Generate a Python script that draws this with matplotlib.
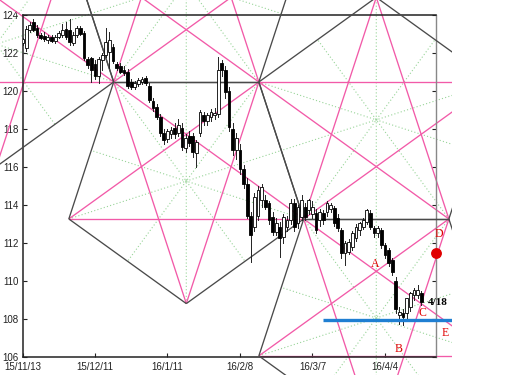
import matplotlib
matplotlib.use("Agg")
import matplotlib.pyplot as plt
from matplotlib.patches import Rectangle
import numpy as np

# ---------------- data ----------------
opens = [122.5,122.25,123.2,123.6,123.3,122.95,122.9,122.65,122.85,122.6,122.85,122.95,123.25,123.2,122.5,122.95,123.3,123.05,121.65,121.7,
         121.4,120.75,121.6,121.9,122.05,122.3,121.4,121.3,121.1,121.0,120.45,120.2,120.35,120.45,120.65,120.25,119.45,119.15,118.6,117.8,
         117.45,117.7,118.05,117.75,118.05,117.0,117.6,117.6,116.7,117.8,118.7,118.4,118.6,118.7,118.8,121.45,121.1,120.0,118.0,116.9,
         116.9,115.9,115.1,113.4,112.84,113.4,114.25,114.25,114.07,113.37,112.58,112.84,112.3,112.84,113.19,114.07,113.02,113.37,113.9,113.72,
         113.5,113.54,113.19,113.54,113.63,113.8,113.8,113.28,112.67,111.44,111.53,111.79,112.23,112.66,112.84,113.1,113.54,112.76,112.49,112.67,
         111.88,111.62,111.09,110.0,108.2,108.3,108.28,108.63,109.25,109.25,109.34]
highs = [122.8,123.4,123.6,123.75,123.45,123.05,123.1,122.95,122.95,122.95,123.15,123.5,123.6,123.8,123.1,123.4,123.4,123.15,121.8,121.8,
         121.6,121.8,122.0,123.3,123.1,122.45,121.5,121.45,121.3,121.15,120.6,120.5,120.65,120.7,120.75,120.4,119.6,119.3,118.8,118.0,
         118.0,118.1,118.3,118.5,118.3,117.7,117.9,117.8,117.4,119.0,118.9,118.85,119.05,119.1,121.8,121.6,121.3,120.2,118.3,117.8,
         117.2,116.1,115.4,113.6,114.6,115.0,115.1,114.5,114.2,113.6,113.3,113.1,113.5,113.4,114.3,114.3,114.0,114.5,114.1,114.3,
         114.2,113.8,113.8,113.7,114.2,114.1,113.95,113.5,112.8,112.1,112.2,112.6,113.0,113.1,113.3,113.8,113.7,112.9,112.9,112.8,
         112.0,111.7,111.2,110.2,108.6,108.5,109.1,109.4,109.6,109.8,109.45]
lows = [122.4,122.1,123.1,123.15,122.85,122.7,122.6,122.5,122.55,122.5,122.75,122.85,122.7,122.4,122.4,122.85,122.95,121.6,121.2,120.45,
        120.6,120.4,121.1,121.8,121.2,121.45,121.1,120.95,120.85,120.15,120.1,120.1,120.25,120.35,120.3,119.4,118.95,118.5,117.6,117.2,
        117.3,117.5,117.5,117.6,116.9,116.8,117.1,116.5,116.0,117.6,118.2,118.2,118.4,118.5,118.6,120.8,119.6,117.9,116.6,116.4,
        115.6,114.9,113.3,110.98,112.6,113.2,113.9,113.8,113.0,112.4,112.4,111.26,112.0,112.6,113.0,112.6,112.8,113.2,113.2,113.5,
        113.3,112.5,112.9,113.0,113.4,113.6,112.9,112.6,111.2,110.83,111.4,111.6,112.1,112.4,112.7,113.0,112.7,112.3,112.3,111.7,
        111.2,110.8,110.3,108.3,107.7,107.65,108.0,108.4,109.0,109.1,108.7]
closes = [122.7,123.25,123.45,123.2,122.95,122.8,122.7,122.85,122.6,122.85,123.05,123.2,122.85,122.55,122.95,123.3,123.0,121.7,121.35,121.1,
          120.75,121.65,121.9,122.55,122.65,121.55,121.2,121.0,120.95,120.25,120.2,120.4,120.55,120.6,120.4,119.5,119.1,118.6,117.75,117.4,
          117.9,117.95,117.7,118.2,117.05,117.5,117.25,116.8,117.3,118.9,118.4,118.7,118.9,118.85,121.1,121.1,119.95,118.1,116.9,117.5,
          115.9,115.1,113.4,112.4,114.42,114.77,114.95,113.9,113.19,112.58,113.02,112.23,113.37,113.19,114.07,112.84,113.9,114.25,113.37,114.25,
          113.9,112.67,113.63,113.19,114.07,114.0,113.02,112.76,111.44,111.97,112.05,112.49,112.84,113.02,113.19,113.72,112.84,112.49,112.76,111.88,
          111.35,110.92,110.47,108.5,108.37,108.1,109.07,109.34,109.5,109.5,108.9]

tick_pos = [0, 20, 40, 60, 80, 100]
tick_labels = ['15/11/13', '15/12/11', '16/1/11', '16/2/8', '16/3/7', '16/4/4']
y_ticks = [106, 108, 110, 112, 114, 116, 118, 120, 122, 124]

# pentagon construction (bar index, price): vertices in order and centre
pent_A = [(25.16, 120.458), (65.21, 120.458), (77.59, 113.250), (45.19, 108.795), (12.78, 113.250)]
pent_B = [(65.21, 120.458), (97.61, 124.913), (130.02, 120.458), (117.64, 113.250), (77.59, 113.250)]
pent_C = [(77.59, 113.250), (117.64, 113.250), (130.02, 106.042), (97.61, 101.587), (65.21, 106.042)]
pent_E = [(25.16, 120.458), (12.78, 127.666), (45.19, 132.121), (77.59, 127.666), (65.21, 120.458)]
pent_F = [(25.16, 120.458), (-7.24, 116.003), (-39.64, 120.458), (-27.27, 127.666), (12.78, 127.666)]
centres = [(45.19, 115.242), (97.61, 118.466), (97.61, 108.034), (45.19, 125.674), (-7.24, 122.450)]
pentagons = [pent_A, pent_B, pent_C, pent_E, pent_F]

support_level = 107.93
support_start = 83.0
marker_pt = (114.0, 111.47)
letters = {'A': (97.4, 110.86), 'B': (103.9, 106.39), 'C': (110.4, 108.32),
           'D': (115.0, 112.44), 'E': (116.6, 107.26)}
date_note = ('4/18', 114.5, 108.83)

# ---------------- figure ----------------
fig = plt.figure(figsize=(5.15, 3.75), dpi=100)
ax = fig.add_axes([0.0437, 0.0488, 0.8023, 0.912])
ax.set_xlim(0, 114)
ax.set_ylim(106, 124)

clip = Rectangle((0, 0), 452 / 515, 1, transform=fig.transFigure)

PINK = '#f25aa8'
DARK = '#4a4a4a'
GREEN = '#98d498'


def seg(A, B, color, lw=0.9, ls='-', z=2):
    ln, = ax.plot([A[0], B[0]], [A[1], B[1]], color=color, lw=lw, ls=ls,
                  zorder=z, solid_capstyle='butt')
    ln.set_clip_path(clip)
    return ln


for verts, c in zip(pentagons, centres):
    v = np.array(verts)
    # green radials: vertex -> centre -> midpoint of opposite edge
    for k in range(5):
        opp = (v[(k + 2) % 5] + v[(k + 3) % 5]) / 2
        seg(v[k], opp, GREEN, lw=0.8, ls=(0, (1, 2)), z=1)
    # pink diagonals
    for k in range(5):
        seg(v[k], v[(k + 2) % 5], PINK, lw=0.95, z=2)
for verts in pentagons:
    v = np.array(verts)
    for k in range(5):
        seg(v[k], v[(k + 1) % 5], DARK, lw=0.95, z=3)

# candles
w = 0.76
for i, (o, h, l, c) in enumerate(zip(opens, highs, lows, closes)):
    ax.plot([i, i], [l, h], color='#222222', lw=0.7, zorder=4)
    up = c >= o
    ax.add_patch(Rectangle((i - w / 2, min(o, c)), w, max(abs(c - o), 0.03),
                           facecolor='white' if up else 'black',
                           edgecolor='black', lw=0.6, zorder=5))

# support line, marker, annotations
sl, = ax.plot([support_start, 120], [support_level, support_level], color='#1f7fd2', lw=2.4, zorder=6,
              solid_capstyle='butt')
sl.set_clip_path(clip)
ax.plot([marker_pt[0]], [marker_pt[1]], 'o', color='#e00000', ms=6.8, zorder=7, clip_on=False)
for k, (xx, yy) in letters.items():
    ax.text(xx, yy, k, color='#e00000', fontsize=8.5, family='Liberation Serif',
            ha='center', va='center', zorder=8, clip_on=False)
ax.text(date_note[1], date_note[2], date_note[0], color='black', fontsize=8, fontweight='bold',
        family='Liberation Serif', ha='center', va='center', zorder=8, clip_on=False)

# axes styling
ax.set_xticks(tick_pos)
ax.set_xticklabels(tick_labels)
ax.set_yticks(y_ticks)
ax.tick_params(axis='both', direction='in', length=3, width=0.8, labelsize=7, colors='#222222')
ax.tick_params(axis='y', right=True, pad=3)
ax.tick_params(axis='x', pad=4)
for lab in ax.get_xticklabels() + ax.get_yticklabels():
    lab.set_family('Liberation Sans')
for s in ('left', 'bottom', 'top'):
    ax.spines[s].set_color('#222222')
    ax.spines[s].set_linewidth(1.1)
ax.spines['right'].set_color('#888888')
ax.spines['right'].set_linewidth(1.0)
ax.patch.set_visible(False)

fig.savefig('out.png', dpi=100)
